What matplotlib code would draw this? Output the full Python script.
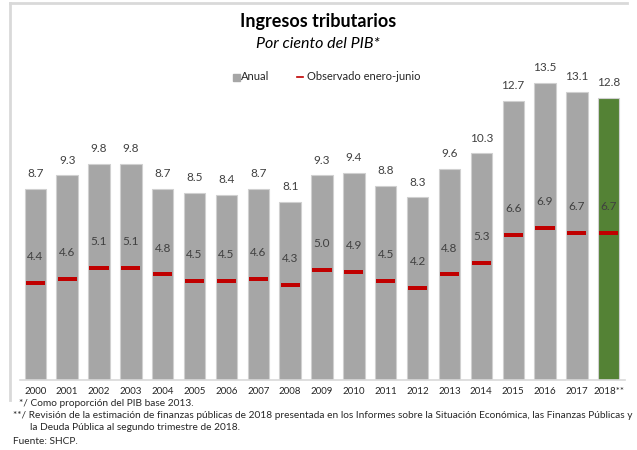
import matplotlib.pyplot as plt
import numpy as np

plt.rcParams['font.family'] = ['Lato', 'DejaVu Sans']

years = ['2000', '2001', '2002', '2003', '2004', '2005', '2006', '2007', '2008', '2009',
         '2010', '2011', '2012', '2013', '2014', '2015', '2016', '2017', '2018**']
anual = [8.7, 9.3, 9.8, 9.8, 8.7, 8.5, 8.4, 8.7, 8.1, 9.3,
         9.4, 8.8, 8.3, 9.6, 10.3, 12.7, 13.5, 13.1, 12.8]
ene_jun = [4.4, 4.6, 5.1, 5.1, 4.8, 4.5, 4.5, 4.6, 4.3, 5.0,
           4.9, 4.5, 4.2, 4.8, 5.3, 6.6, 6.9, 6.7, 6.7]

gris = '#A6A6A6'
verde = '#548235'
rojo = '#C00000'
texto = '#404040'

fig = plt.figure(figsize=(6.37, 4.5), dpi=100)
W, H = 637, 450
ax = fig.add_axes([20 / W, 1 - 380 / H, 605 / W, 320 / H])

x = np.arange(len(years))
colores = [gris] * (len(years) - 1) + [verde]
ax.bar(x, anual, width=0.67, color=colores, edgecolor='#D0D0D0', linewidth=0.8, zorder=2)
ax.bar(x, [0.19] * len(x), bottom=np.array(ene_jun) - 0.095, width=0.6, color=rojo, zorder=3)

for i in range(len(x)):
    ax.text(x[i], anual[i] + 0.45, f'{anual[i]:.1f}', ha='center', va='bottom',
            fontsize=8.5, color=texto)
    ax.text(x[i], ene_jun[i] + 1.2, f'{ene_jun[i]:.1f}', ha='center', va='center',
            fontsize=8.5, color=texto)

ax.set_xlim(-0.48, 18.51)
ax.set_ylim(0, 320 / 22.0)
ax.set_xticks(x)
ax.set_xticklabels(years, fontsize=7, color='#262626')
ax.tick_params(axis='x', length=0, pad=5)
ax.set_yticks([])
for s in ['top', 'right', 'left']:
    ax.spines[s].set_visible(False)
ax.spines['bottom'].set_color('#D9D9D9')
ax.spines['bottom'].set_linewidth(1.2)

# marco
fig.add_artist(plt.Line2D([9.5 / W, 9.5 / W], [1 - 400 / H, 1 - 3 / H], color='#D9D9D9', lw=2))
fig.add_artist(plt.Line2D([9.5 / W, 627 / W], [1 - 3 / H, 1 - 3 / H], color='#D9D9D9', lw=2))

fig.text(318 / W, 1 - 22 / H, 'Ingresos tributarios', ha='center', va='center',
         fontsize=13, fontweight='bold', color='black')
fig.text(318 / W, 1 - 44 / H, 'Por ciento del PIB*', ha='center', va='center',
         fontsize=11.5, style='italic', color='black')

# leyenda
fig.patches.append(plt.Rectangle((233 / W, 1 - 81 / H), 7 / W, 7 / H, color=gris,
                                 transform=fig.transFigure))
fig.text(241 / W, 1 - 77 / H, 'Anual', ha='left', va='center', fontsize=8, color='#262626')
fig.add_artist(plt.Line2D([297 / W, 303 / W], [1 - 77 / H, 1 - 77 / H], color=rojo, lw=1.2))
fig.text(307 / W, 1 - 77 / H, 'Observado enero-junio', ha='left', va='center', fontsize=8,
         color='#262626')

notas = [
    (19, 403, '*/ Como proporción del PIB base 2013.'),
    (13, 416, '**/ Revisión de la estimación de finanzas públicas de 2018 presentada en los Informes sobre la Situación Económica, las Finanzas Públicas y'),
    (30, 428, 'la Deuda Pública al segundo trimestre de 2018.'),
    (13, 441, 'Fuente: SHCP.'),
]
for nx, ny, t in notas:
    fig.text(nx / W, 1 - ny / H, t, ha='left', va='center', fontsize=7.3, color='#262626')

fig.savefig('out.png', dpi=100)
